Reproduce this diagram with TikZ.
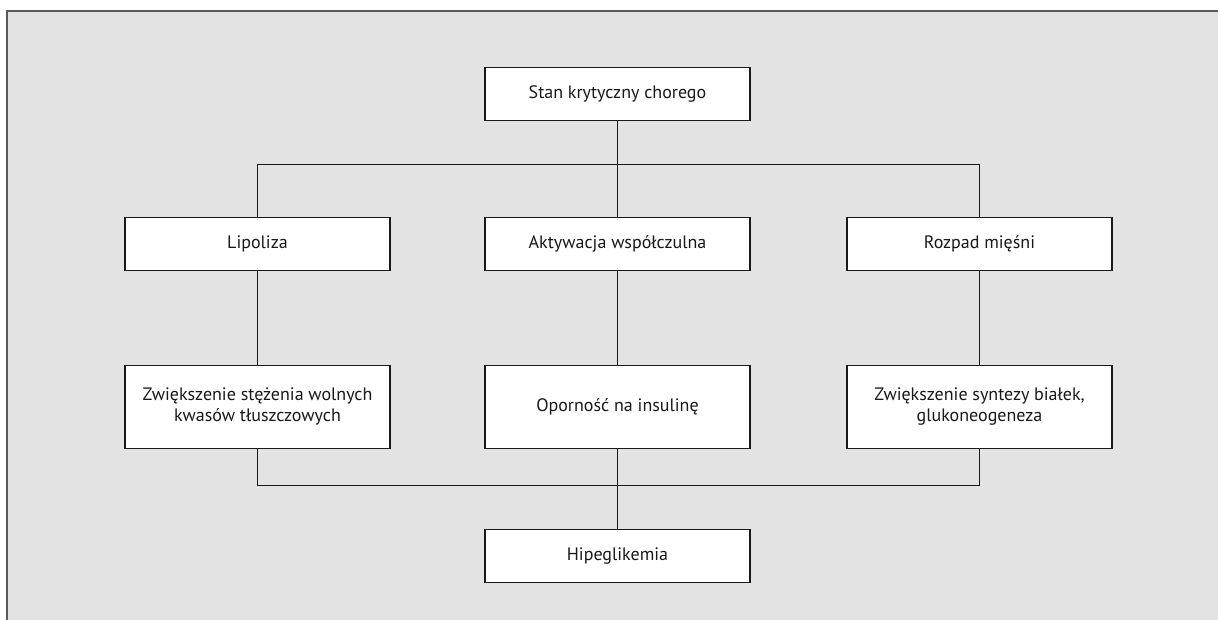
\documentclass[tikz,border=0pt]{standalone}
\usepackage{fontspec}
\setmainfont{PT Sans}
\begin{document}
\begin{tikzpicture}[x=1pt,y=-1pt,
  box/.style={draw=black!90,line width=1.4pt,fill=white,minimum width=265pt,minimum height=53pt,inner sep=0pt,align=center,font=\fontsize{18}{21.5}\selectfont,text=black!90},
  tallbox/.style={box,minimum height=83pt},
  link/.style={draw=black!90,line width=1.4pt}]
\useasboundingbox (0,0) rectangle (1218,620);
\fill[gray!22] (7,11) rectangle (1218,620);
\draw[black!65,line width=2pt] (7,620) -- (7,11) -- (1218,11);
\node[box] (top) at (617.5,94) {Stan krytyczny chorego};
\node[box] (lip) at (257.5,244) {Lipoliza};
\node[box] (akt) at (617.5,244) {Aktywacja współczulna};
\node[box] (roz) at (979.5,244) {Rozpad mięśni};
\node[tallbox] (zw1) at (257.5,406.7) {Zwiększenie stężenia wolnych\\kwasów tłuszczowych};
\node[tallbox] (opo) at (617.5,406.7) {Oporność na insulinę};
\node[tallbox] (zw2) at (979.5,406.7) {Zwiększenie syntezy białek,\\glukoneogeneza};
\node[box] (hip) at (617.5,556) {Hipeglikemia};
\coordinate (j1) at (617.5,164.5);
\coordinate (j2) at (617.5,485.3);
\draw[link] (top.south) -- (akt.north);
\draw[link] (lip.north) |- (j1) -| (roz.north);
\draw[link] (lip.south) -- (zw1.north);
\draw[link] (akt.south) -- (opo.north);
\draw[link] (roz.south) -- (zw2.north);
\draw[link] (zw1.south) |- (j2) -| (zw2.south);
\draw[link] (opo.south) -- (hip.north);
\end{tikzpicture}
\end{document}
